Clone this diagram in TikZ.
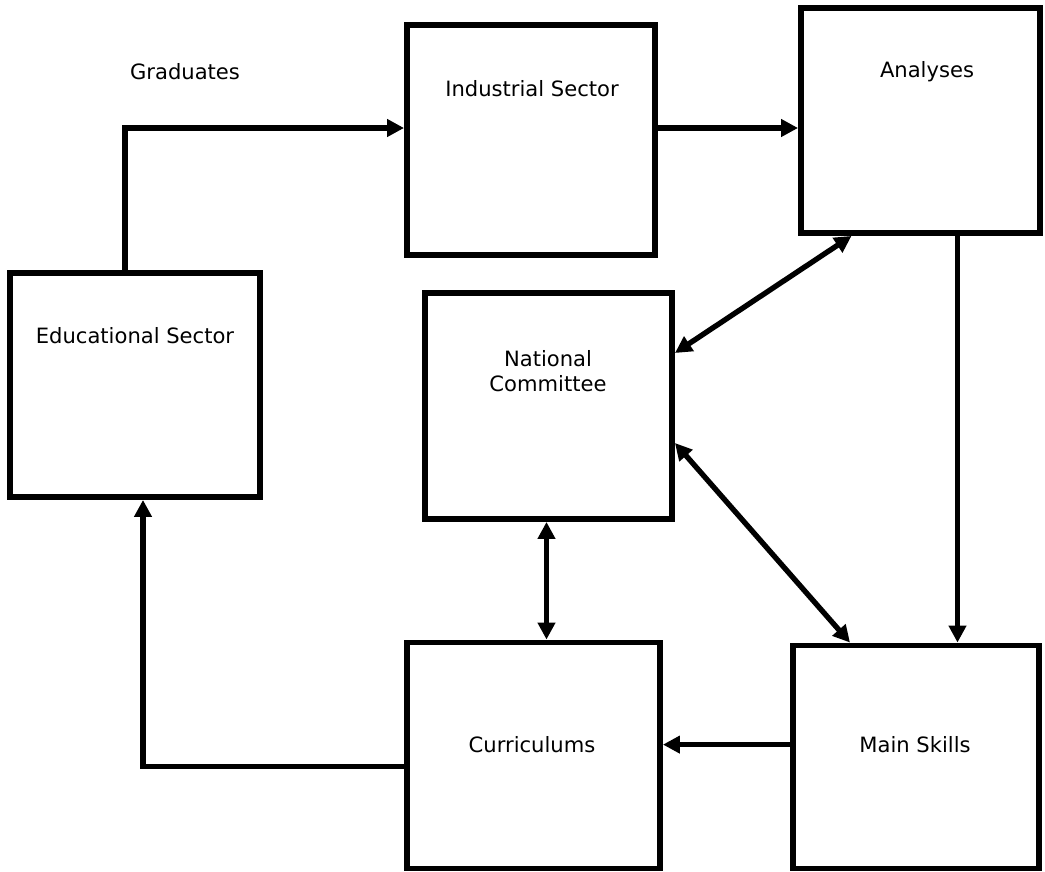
\documentclass[tikz,border=0pt]{standalone}
\usepackage{fontspec}
\setmainfont{DejaVu Sans}
\usetikzlibrary{arrows.meta}

\begin{document}
\begin{tikzpicture}[x=0.25mm,y=-0.25mm,>={Triangle[length=12pt,width=12pt]},line width=3.8pt]
    \tikzstyle{box}=[draw, line width=4.2pt, rectangle, inner sep=0pt]
    \tikzstyle{txt}=[align=center, inner sep=0pt, font=\fontsize{15}{17.5}\selectfont]

    \useasboundingbox (0,0) rectangle (1045,872);

    \node[box, minimum width=62.5mm, minimum height=56mm] (edu) at (135,385) {};
    \node[box, minimum width=62mm, minimum height=57.5mm] (ind) at (531,140) {};
    \node[box, minimum width=59.75mm, minimum height=56.25mm] (ana) at (920.5,120.5) {};
    \node[box, minimum width=61.75mm, minimum height=56.5mm] (nat) at (548.5,406) {};
    \node[box, minimum width=63.25mm, minimum height=56.5mm] (cur) at (533.5,755.5) {};
    \node[box, minimum width=61.5mm, minimum height=55.75mm] (ski) at (916,757) {};

    \node[txt] (grad) at (185,72) {Graduates};
    \node[txt] (edutxt) at (135,336) {Educational Sector};
    \node[txt] (indtxt) at (532,89) {Industrial Sector};
    \node[txt] (anatxt) at (927,72) {Analyses};
    \node[txt] (nattxt) at (548,371) {National\\Committee};
    \node[txt] (curtxt) at (532,745) {Curriculums};
    \node[txt] (skitxt) at (915,745) {Main Skills};

    \draw[->] ([xshift=-2.5mm]edu.north) |- ([yshift=3mm]ind.west);
    \draw[->] ([yshift=3mm]ind.east) -- ([yshift=3mm]ind.east -| ana.west);
    \draw[->] ([xshift=9.25mm]ana.south) -- ([xshift=9.25mm]ana.south |- ski.north);
    \draw[<->] ([xshift=-17.25mm]ana.south) -- ([yshift=13.25mm]nat.east);
    \draw[<->] ([yshift=-9.25mm]nat.east) -- ([xshift=-16.5mm]ski.north);
    \draw[<->] ([xshift=-0.5mm]nat.south) -- ([xshift=-0.5mm]nat.south |- cur.north);
    \draw[->] ([yshift=3.1mm]ski.west) -- ([yshift=3.1mm]ski.west -| cur.east);
    \draw[->] ([yshift=-2.75mm]cur.west) -| ([xshift=2mm]edu.south);
\end{tikzpicture}
\end{document}
